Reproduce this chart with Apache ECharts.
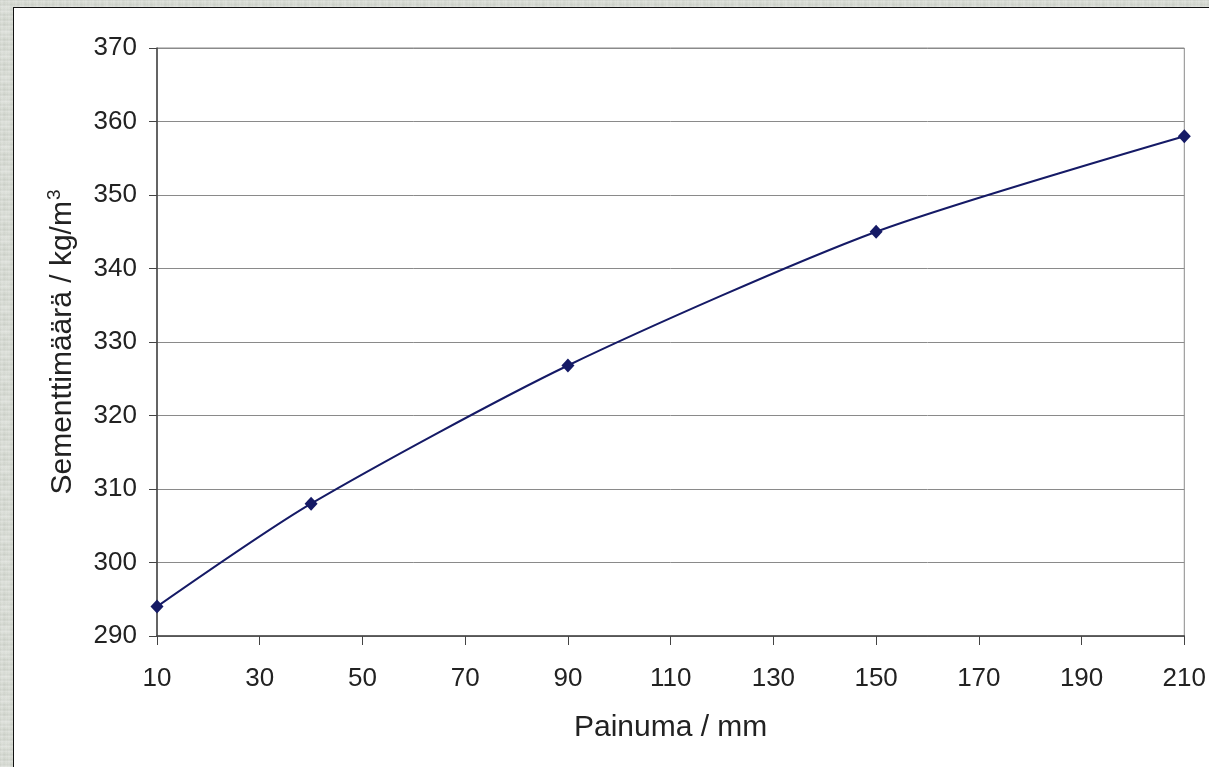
<!DOCTYPE html>
<html>
<head>
<meta charset="utf-8">
<script src="https://cdn.jsdelivr.net/npm/echarts@6/dist/echarts.min.js"></script>
<style>
  html, body { margin: 0; padding: 0; width: 1209px; height: 767px; overflow: hidden; }
  body {
    background-color: #d6dad2;
    background-image:
      radial-gradient(ellipse at 30% 40%, rgba(255,255,255,0.25) 0px, rgba(255,255,255,0) 6px),
      repeating-linear-gradient(0deg, rgba(255,255,255,0.18) 0px, rgba(255,255,255,0.18) 1px, rgba(0,0,0,0.05) 2px, rgba(0,0,0,0) 3px, rgba(255,255,255,0.1) 5px),
      repeating-linear-gradient(90deg, rgba(120,125,115,0.07) 0px, rgba(255,255,255,0.12) 2px, rgba(0,0,0,0.04) 4px, rgba(255,255,255,0.06) 7px);
    background-size: 17px 23px, auto, auto;
  }
  #panel { position: absolute; left: 13px; top: 7px; width: 1300px; height: 900px; background: #fff; border-left: 1px solid #111; border-top: 1px solid #111; }
  #chart { position: absolute; left: 0; top: 0; width: 1209px; height: 767px; }
</style>
</head>
<body>
<div id="panel"></div>
<div id="chart"></div>
<script>
// Data
const painuma = [10, 40, 90, 150, 210];          // mm
const sementti = [294, 308, 326.8, 345, 358];     // kg/m3
const xTicks = [10, 30, 50, 70, 90, 110, 130, 150, 170, 190, 210];
const yTicks = [290, 300, 310, 320, 330, 340, 350, 360, 370];
const xName = 'Painuma / mm';
const yNameMain = 'Sementtimäärä / kg/m';
const yNameSup = '3';

const chart = echarts.init(document.getElementById('chart'), null, { renderer: 'canvas' });
const font = 'Liberation Sans, Arial, sans-serif';
chart.setOption({
  backgroundColor: 'transparent',
  animation: false,
  grid: {
    left: 157, right: 23, top: 48, bottom: 131,
    show: true, borderColor: '#8a8a8a', borderWidth: 1, backgroundColor: 'transparent'
  },
  xAxis: {
    type: 'value',
    min: xTicks[0], max: xTicks[xTicks.length - 1], interval: 20,
    name: xName, nameLocation: 'middle', nameGap: 77,
    nameTextStyle: { fontFamily: font, fontSize: 30, color: '#222' },
    axisLine: { show: true, lineStyle: { color: '#444', width: 1.5 } },
    axisTick: { show: true, length: 9, lineStyle: { color: '#444', width: 1 } },
    axisLabel: { fontFamily: font, fontSize: 26, color: '#222', margin: 30 },
    splitLine: { show: false }
  },
  yAxis: {
    type: 'value',
    min: yTicks[0], max: yTicks[yTicks.length - 1], interval: 10,
    name: '{a|' + yNameMain + '}{s|' + yNameSup + '}',
    nameLocation: 'middle', nameGap: 77, nameRotate: 90,
    nameTextStyle: {
      fontFamily: font, fontSize: 30, color: '#222',
      rich: {
        a: { fontFamily: font, fontSize: 30, color: '#222' },
        s: { fontFamily: font, fontSize: 19, color: '#222', padding: [0, 0, 16, 1] }
      }
    },
    axisLine: { show: true, lineStyle: { color: '#444', width: 1.5 } },
    axisTick: { show: true, length: 8, lineStyle: { color: '#444', width: 1 } },
    axisLabel: { fontFamily: font, fontSize: 26, color: '#222', margin: 20, padding: [3, 0, 0, 0] },
    splitLine: { show: true, lineStyle: { color: '#8a8a8a', width: 1 } }
  },
  series: [{
    type: 'line',
    data: painuma.map((x, i) => [x, sementti[i]]),
    smooth: 0.25,
    symbol: 'diamond',
    symbolSize: [13, 14],
    lineStyle: { color: '#151a66', width: 2 },
    itemStyle: { color: '#151a66' },
    z: 5
  }]
});
</script>
</body>
</html>
